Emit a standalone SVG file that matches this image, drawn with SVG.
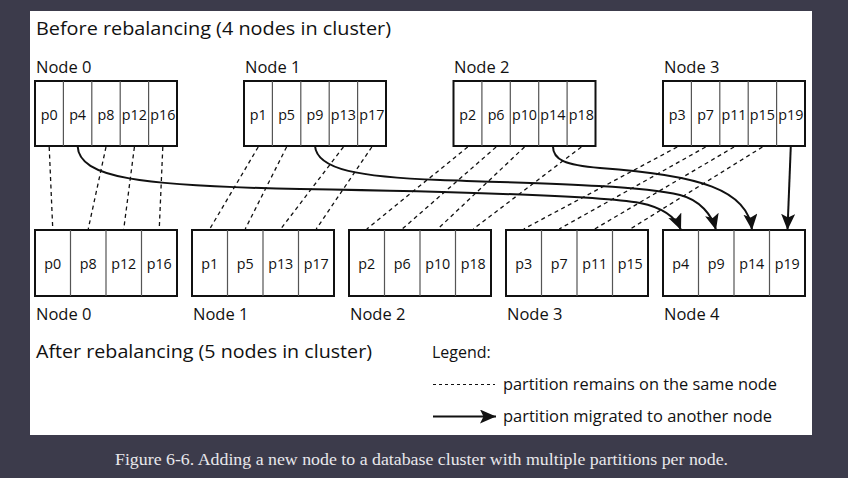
<svg xmlns="http://www.w3.org/2000/svg" width="848" height="478" viewBox="0 0 848 478">
<defs>
<style>
.t{font-family:"Open Sans","Noto Sans","DejaVu Sans",sans-serif;fill:#111}
.title{font-size:19px}
.lbl{font-size:16.5px}
.cell{font-size:14.3px;text-anchor:middle}
.leg{font-size:16px}
.box{fill:#fff;stroke:#111;stroke-width:2}
.div{stroke:#555;stroke-width:1.2}
.dash{stroke:#111;stroke-width:1.3;stroke-dasharray:4 3.5;fill:none}
.mig{stroke:#111;stroke-width:2;fill:none;marker-end:url(#ah)}
.cap{font-family:"Liberation Serif","DejaVu Serif",serif;font-size:16px;fill:#e8e8ec;text-anchor:middle}
</style>
<marker id="ah" markerUnits="userSpaceOnUse" markerWidth="17" markerHeight="15" refX="16" refY="7" orient="auto">
<path d="M0,0 L16,7 L0,14 L3.5,7 Z" fill="#111"/>
</marker>
</defs>
<rect x="0" y="0" width="848" height="478" fill="#3c3b4b"/>
<rect x="30" y="11" width="782" height="424" fill="#fff"/>

<text class="t title" x="36" y="35" textLength="355" lengthAdjust="spacingAndGlyphs">Before rebalancing (4 nodes in cluster)</text>
<text class="t title" x="36" y="358" textLength="336" lengthAdjust="spacingAndGlyphs">After rebalancing (5 nodes in cluster)</text>

<g id="before-node0">
<text class="t lbl" x="36" y="73">Node 0</text>
<rect class="box" x="35" y="81" width="142" height="65"/>
<path class="div" d="M63.4,81V146M91.8,81V146M120.2,81V146M148.6,81V146"/>
<text class="t cell" y="120"><tspan x="49.2">p0</tspan><tspan x="77.6">p4</tspan><tspan x="106">p8</tspan><tspan x="134.4">p12</tspan><tspan x="162.8">p16</tspan></text>
</g>
<g id="before-node1">
<text class="t lbl" x="245" y="73">Node 1</text>
<rect class="box" x="244" y="81" width="142" height="65"/>
<path class="div" d="M272.4,81V146M300.8,81V146M329.2,81V146M357.6,81V146"/>
<text class="t cell" y="120"><tspan x="258.2">p1</tspan><tspan x="286.6">p5</tspan><tspan x="315">p9</tspan><tspan x="343.4">p13</tspan><tspan x="371.8">p17</tspan></text>
</g>
<g id="before-node2">
<text class="t lbl" x="454" y="73">Node 2</text>
<rect class="box" x="453.5" y="81" width="142" height="65"/>
<path class="div" d="M481.9,81V146M510.3,81V146M538.7,81V146M567.1,81V146"/>
<text class="t cell" y="120"><tspan x="467.7">p2</tspan><tspan x="496.1">p6</tspan><tspan x="524.5">p10</tspan><tspan x="552.9">p14</tspan><tspan x="581.3">p18</tspan></text>
</g>
<g id="before-node3">
<text class="t lbl" x="664" y="73">Node 3</text>
<rect class="box" x="663" y="81" width="142" height="65"/>
<path class="div" d="M691.4,81V146M719.8,81V146M748.2,81V146M776.6,81V146"/>
<text class="t cell" y="120"><tspan x="677.2">p3</tspan><tspan x="705.6">p7</tspan><tspan x="734">p11</tspan><tspan x="762.4">p15</tspan><tspan x="790.8">p19</tspan></text>
</g>

<g id="after-node0">
<rect class="box" x="35" y="230" width="142" height="66"/>
<path class="div" d="M70.5,230V296M106,230V296M141.5,230V296"/>
<text class="t cell" y="269"><tspan x="52.75">p0</tspan><tspan x="88.25">p8</tspan><tspan x="123.75">p12</tspan><tspan x="159.25">p16</tspan></text>
<text class="t lbl" x="36" y="320">Node 0</text>
</g>
<g id="after-node1">
<rect class="box" x="192" y="230" width="142" height="66"/>
<path class="div" d="M227.5,230V296M263,230V296M298.5,230V296"/>
<text class="t cell" y="269"><tspan x="209.75">p1</tspan><tspan x="245.25">p5</tspan><tspan x="280.75">p13</tspan><tspan x="316.25">p17</tspan></text>
<text class="t lbl" x="193" y="320">Node 1</text>
</g>
<g id="after-node2">
<rect class="box" x="349" y="230" width="142" height="66"/>
<path class="div" d="M384.5,230V296M420,230V296M455.5,230V296"/>
<text class="t cell" y="269"><tspan x="366.75">p2</tspan><tspan x="402.25">p6</tspan><tspan x="437.75">p10</tspan><tspan x="473.25">p18</tspan></text>
<text class="t lbl" x="350" y="320">Node 2</text>
</g>
<g id="after-node3">
<rect class="box" x="506" y="230" width="142" height="66"/>
<path class="div" d="M541.5,230V296M577,230V296M612.5,230V296"/>
<text class="t cell" y="269"><tspan x="523.75">p3</tspan><tspan x="559.25">p7</tspan><tspan x="594.75">p11</tspan><tspan x="630.25">p15</tspan></text>
<text class="t lbl" x="507" y="320">Node 3</text>
</g>
<g id="after-node4">
<rect class="box" x="663" y="230" width="142" height="66"/>
<path class="div" d="M698.5,230V296M734,230V296M769.5,230V296"/>
<text class="t cell" y="269"><tspan x="680.75">p4</tspan><tspan x="716.25">p9</tspan><tspan x="751.75">p14</tspan><tspan x="787.25">p19</tspan></text>
<text class="t lbl" x="664" y="320">Node 4</text>
</g>

<g id="connectors">
<path class="dash" d="M49.2,147L52.75,229M106,147L88.25,229M134.4,147L123.75,229M162.8,147L159.25,229"/>
<path class="dash" d="M258.2,147L209.75,229M286.6,147L245.25,229M343.4,147L280.75,229M371.8,147L316.25,229"/>
<path class="dash" d="M467.7,147L366.75,229M496.1,147L402.25,229M524.5,147L437.75,229M581.3,147L473.25,229"/>
<path class="dash" d="M677.2,147L523.75,229M705.6,147L559.25,229M734,147L594.75,229M762.4,147L630.25,229"/>
<path class="mig" d="M77.6,146 C79,178 140,186 300,189 C480,192 600,196 640,203 C665,208 676,218 681,230"/>
<path class="mig" d="M315,146 C317,170 360,177 440,180 C560,184 640,186 680,195 C700,200 712,215 716,230"/>
<path class="mig" d="M552.9,146 C553,160 565,165 600,168 C700,175 748,190 752,230"/>
<path class="mig" d="M790.8,146 L787.5,230"/>
</g>

<g id="legend">
<text class="t leg" x="432" y="358">Legend:</text>
<path d="M433,384.5H495" stroke="#111" stroke-width="1" stroke-dasharray="3 3"/>
<text class="t leg" x="503" y="390" textLength="274" lengthAdjust="spacingAndGlyphs">partition remains on the same node</text>
<path d="M433,416.5H496" stroke="#111" stroke-width="2" fill="none" marker-end="url(#ah)"/>
<text class="t leg" x="503" y="422" textLength="269" lengthAdjust="spacingAndGlyphs">partition migrated to another node</text>
</g>

<text class="cap" x="421.5" y="465" textLength="613" lengthAdjust="spacingAndGlyphs">Figure 6-6. Adding a new node to a database cluster with multiple partitions per node.</text>
</svg>
